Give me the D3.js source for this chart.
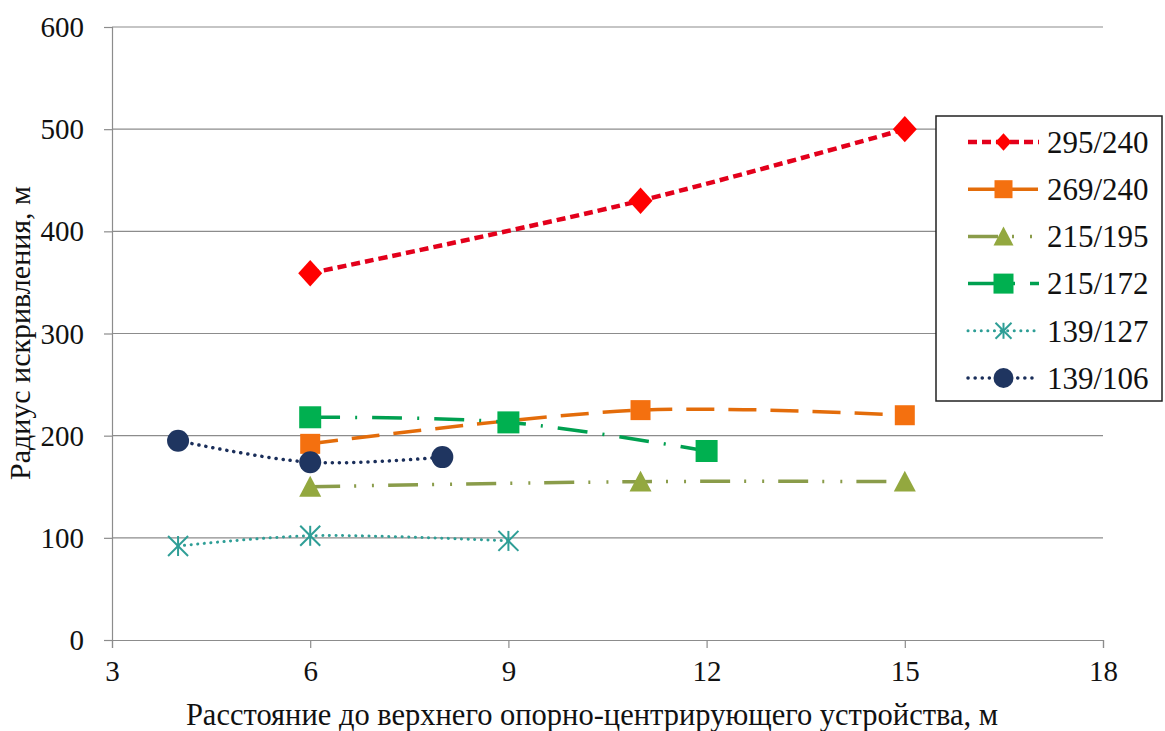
<!DOCTYPE html>
<html>
<head>
<meta charset="utf-8">
<script src="https://cdn.jsdelivr.net/npm/d3@7"></script>
<style>
  html, body { margin: 0; padding: 0; background: #fff; }
  svg { display: block; }
  svg text { font-family: "Liberation Serif", "Times New Roman", "DejaVu Serif", serif; }
</style>
</head>
<body>
<svg id="chart" width="1165" height="731"></svg>
<script>
// Radius of curvature vs. distance to the upper support-centering device
const seriesNames = ["295/240", "269/240", "215/195", "215/172", "139/127", "139/106"];
const xs_295_240 = [6, 11, 15];
const ys_295_240 = [359, 430, 500];
const xs_269_240 = [6, 11, 15];
const ys_269_240 = [192, 225, 220];
const xs_215_195 = [6, 11, 15];
const ys_215_195 = [150, 155, 155];
const xs_215_172 = [6, 9, 12];
const ys_215_172 = [218, 213, 185];
const xs_139_127 = [4, 6, 9];
const ys_139_127 = [92, 102, 97];
const xs_139_106 = [4, 6, 8];
const ys_139_106 = [195, 174, 179];

const xTicks = [3, 6, 9, 12, 15, 18];
const yTicks = [0, 100, 200, 300, 400, 500, 600];
const xTitle = "Расстояние до верхнего опорно-центрирующего устройства, м";
const yTitle = "Радиус искривления, м";

const FONT = "'Liberation Serif', 'Times New Roman', 'DejaVu Serif', serif";

const styles = [
  { line: "#E3001B", fill: "#FF0000", dash: "9,5", width: 4.5, marker: "diamond", size: 12, lsize: 8 },
  { line: "#E36C0A", fill: "#F4700F", dash: "28,14", width: 3.5, marker: "square", size: 10, lsize: 9 },
  { line: "#8A9C4A", fill: "#93A83F", dash: "30,14,2,16,2,14", width: 3.5, marker: "triangle", size: 11, lsize: 10 },
  { line: "#00A050", fill: "#00B050", dash: "30,15,2,15", width: 3.5, marker: "square", size: 11, lsize: 10 },
  { line: "#2E9E96", fill: "#2E9E96", dash: "0.1,6.5", width: 3, marker: "star", size: 10, lsize: 8 },
  { line: "#1A2E5A", fill: "#1F3560", dash: "0.1,7", width: 3.5, marker: "circle", size: 11, lsize: 10 }
];

const allXs = [xs_295_240, xs_269_240, xs_215_195, xs_215_172, xs_139_127, xs_139_106];
const allYs = [ys_295_240, ys_269_240, ys_215_195, ys_215_172, ys_139_127, ys_139_106];
const series = seriesNames.map((name, i) => ({
  name,
  style: styles[i],
  points: allXs[i].map((x, j) => ({ x, y: allYs[i][j] }))
}));

const svg = d3.select("#chart");
const plotLeft = 112, plotRight = 1103, plotTop = 27, plotBottom = 640;

const x = d3.scaleLinear().domain([3, 18]).range([plotLeft, plotRight]);
const y = d3.scaleLinear().domain([0, 600]).range([plotBottom, plotTop]);

// horizontal gridlines
svg.append("g")
  .selectAll("line")
  .data(yTicks.filter(d => d > 0))
  .join("line")
  .attr("x1", plotLeft).attr("x2", plotRight)
  .attr("y1", d => y(d)).attr("y2", d => y(d))
  .attr("stroke", "#8c8c8c").attr("stroke-width", 1.2);

// axes
const xAxis = svg.append("g")
  .attr("transform", `translate(0,${plotBottom})`)
  .call(d3.axisBottom(x).tickValues(xTicks).tickSize(8).tickPadding(12).tickFormat(d3.format("d")));
const yAxis = svg.append("g")
  .attr("transform", `translate(${plotLeft},0)`)
  .call(d3.axisLeft(y).tickValues(yTicks).tickSize(8).tickPadding(20).tickFormat(d3.format("d")));

[xAxis, yAxis].forEach(g => {
  g.attr("font-family", FONT);
  g.select(".domain").attr("stroke", "#8c8c8c").attr("stroke-width", 1.2);
  g.selectAll(".tick line").attr("stroke", "#8c8c8c").attr("stroke-width", 1.2);
  g.selectAll(".tick text")
    .attr("fill", "#111")
    .style("font-family", FONT)
    .style("font-size", "29px");
});
yAxis.selectAll(".tick text").attr("dy", "0.33em");

// axis titles
svg.append("text")
  .attr("x", 592).attr("y", 725)
  .attr("text-anchor", "middle")
  .attr("fill", "#111")
  .style("font-family", FONT)
  .style("font-size", "30.5px")
  .text(xTitle);
svg.append("text")
  .attr("transform", "translate(30,333) rotate(-90)")
  .attr("text-anchor", "middle")
  .attr("fill", "#111")
  .style("font-family", FONT)
  .style("font-size", "30px")
  .text(yTitle);

function drawMarker(g, type, cx, cy, s, color) {
  if (type === "diamond") {
    g.append("path")
      .attr("d", `M${cx},${cy - s * 1.1}L${cx + s},${cy}L${cx},${cy + s * 1.1}L${cx - s},${cy}Z`)
      .attr("fill", color);
  } else if (type === "square") {
    g.append("rect")
      .attr("x", cx - s).attr("y", cy - s).attr("width", 2 * s).attr("height", 2 * s)
      .attr("fill", color);
  } else if (type === "triangle") {
    g.append("path")
      .attr("d", `M${cx},${cy - s}L${cx + s},${cy + s * 0.9}L${cx - s},${cy + s * 0.9}Z`)
      .attr("fill", color);
  } else if (type === "circle") {
    g.append("circle").attr("cx", cx).attr("cy", cy).attr("r", s).attr("fill", color);
  } else if (type === "star") {
    const segs = [[-s, -s, s, s], [-s, s, s, -s], [0, -s, 0, s]];
    segs.forEach(([a, b, c, d]) => {
      g.append("line")
        .attr("x1", cx + a).attr("y1", cy + b).attr("x2", cx + c).attr("y2", cy + d)
        .attr("stroke", color).attr("stroke-width", 2);
    });
  }
}

// series lines (smoothed) and markers
const line = d3.line()
  .x(d => x(d.x)).y(d => y(d.y))
  .curve(d3.curveCatmullRom.alpha(0.5));

const plot = svg.append("g");
series.forEach(s => {
  plot.append("path")
    .datum(s.points)
    .attr("d", line)
    .attr("fill", "none")
    .attr("stroke", s.style.line)
    .attr("stroke-width", s.style.width)
    .attr("stroke-dasharray", s.style.dash)
    .attr("stroke-linecap", s.style.dash.startsWith("0.1") ? "round" : "butt");
});
series.forEach(s => {
  const g = plot.append("g");
  s.points.forEach(p => drawMarker(g, s.style.marker, x(p.x), y(p.y), s.style.size, s.style.fill));
});

// legend
const legend = svg.append("g");
legend.append("rect")
  .attr("x", 936).attr("y", 116).attr("width", 226).attr("height", 285)
  .attr("fill", "#fff").attr("stroke", "#222").attr("stroke-width", 1.5);

series.forEach((s, i) => {
  const ly = 142 + i * 47.2;
  const g = legend.append("g");
  g.append("line")
    .attr("x1", 968).attr("x2", 1039).attr("y1", ly).attr("y2", ly)
    .attr("stroke", s.style.line)
    .attr("stroke-width", s.style.width)
    .attr("stroke-dasharray", s.style.dash)
    .attr("stroke-linecap", s.style.dash.startsWith("0.1") ? "round" : "butt");
  drawMarker(g, s.style.marker, 1003.5, ly, s.style.lsize, s.style.fill);
  g.append("text")
    .attr("x", 1047).attr("y", ly).attr("dy", "0.35em")
    .attr("fill", "#111")
    .style("font-family", FONT)
    .style("font-size", "31px")
    .text(s.name);
});
</script>
</body>
</html>
